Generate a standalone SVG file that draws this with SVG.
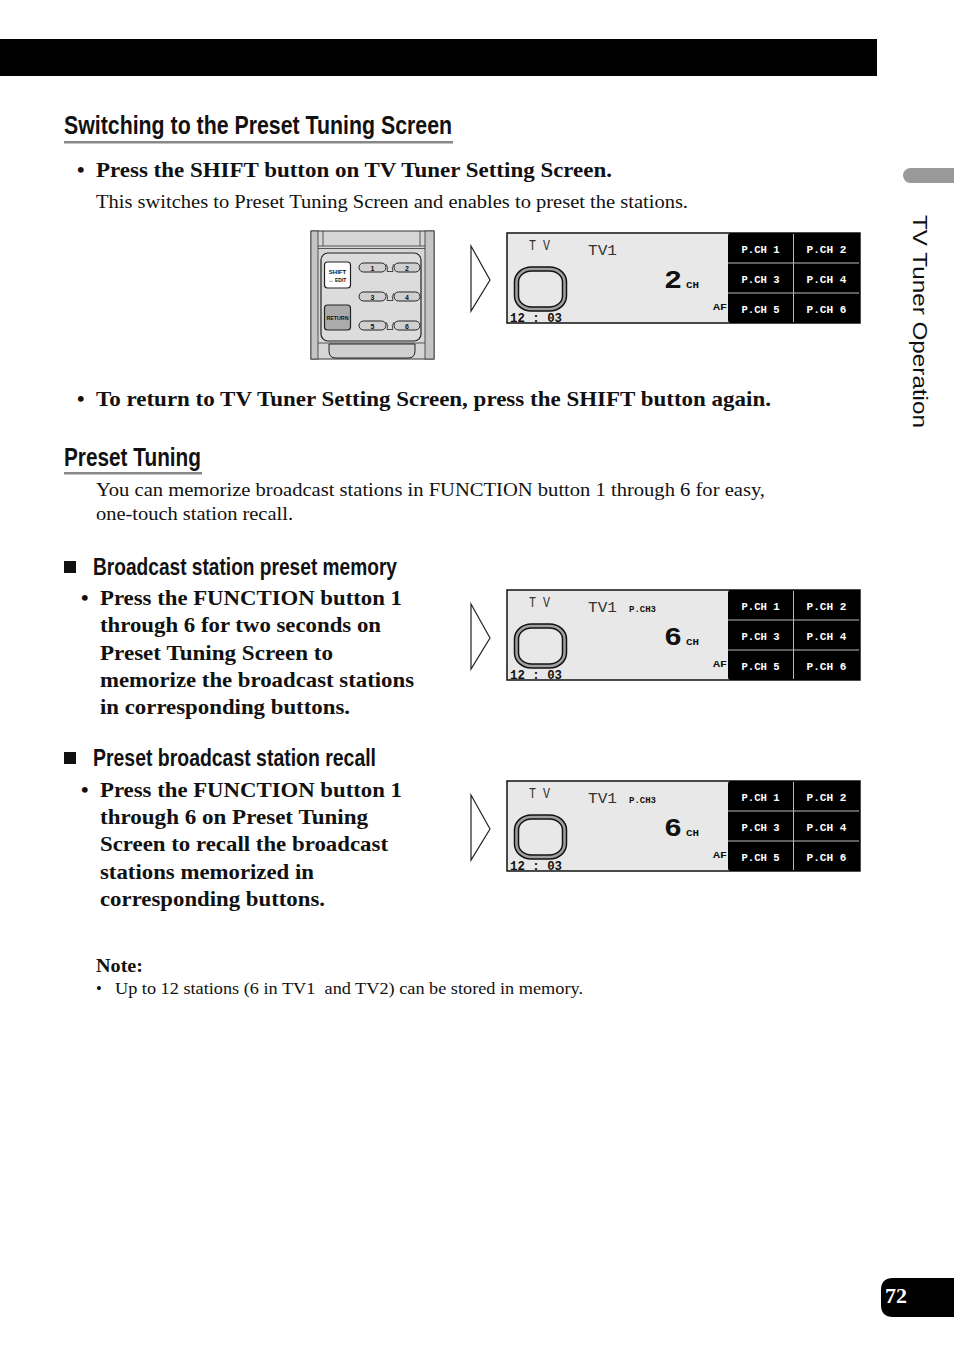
<svg xmlns="http://www.w3.org/2000/svg" xmlns:xlink="http://www.w3.org/1999/xlink" width="954" height="1355" viewBox="0 0 954 1355">
<style>
.h{font-family:"Liberation Sans",Arial,sans-serif;font-weight:bold;fill:#111}
.b{font-family:"Liberation Serif","Times New Roman",serif;font-weight:bold;font-size:21.5px;fill:#111}
.t{font-family:"Liberation Serif","Times New Roman",serif;font-size:19px;fill:#111}
.lcd{font-family:"Liberation Mono","DejaVu Sans Mono",monospace;font-weight:bold}
.lcdn{font-family:"Liberation Mono","DejaVu Sans Mono",monospace;font-weight:normal;fill:#333}
.btn{font-size:11.5px;fill:#fff}
.rm{font-family:"Liberation Sans",Arial,sans-serif;font-weight:bold;fill:#111}
.arrow{fill:#fff;stroke:#222;stroke-width:1.2}
</style>
<defs>
<g id="lcdBase">
<rect x="0" y="0" width="353" height="90" fill="#e8e8e8" stroke="#111" stroke-width="1.5"/>
<path d="M224,0 H353 V90 H224 Q221,90 221,87 V3 Q221,0 224,0 Z" fill="#000"/>
<line x1="286.5" y1="1" x2="286.5" y2="89" stroke="#bbb" stroke-width="1"/>
<line x1="221" y1="30" x2="352" y2="30" stroke="#bbb" stroke-width="1"/>
<line x1="221" y1="60" x2="352" y2="60" stroke="#bbb" stroke-width="1"/>
<g class="lcd btn" text-anchor="middle">
<text x="253.5" y="19.5" textLength="38" lengthAdjust="spacingAndGlyphs">P.CH 1</text>
<text x="319.5" y="19.5" textLength="40" lengthAdjust="spacingAndGlyphs">P.CH 2</text>
<text x="253.5" y="49.5" textLength="38" lengthAdjust="spacingAndGlyphs">P.CH 3</text>
<text x="319.5" y="49.5" textLength="40" lengthAdjust="spacingAndGlyphs">P.CH 4</text>
<text x="253.5" y="79.5" textLength="38" lengthAdjust="spacingAndGlyphs">P.CH 5</text>
<text x="319.5" y="79.5" textLength="40" lengthAdjust="spacingAndGlyphs">P.CH 6</text>
</g>
<text class="lcdn" x="22" y="17" font-size="14" textLength="21" lengthAdjust="spacingAndGlyphs">T V</text>
<text class="lcdn" x="81" y="22" font-size="14" textLength="29" lengthAdjust="spacingAndGlyphs">TV1</text>
<text class="lcd" x="179" y="55" font-size="9.5" fill="#111" textLength="13" lengthAdjust="spacingAndGlyphs">CH</text>
<text class="lcd" x="206" y="77" font-size="9.5" fill="#111" textLength="14" lengthAdjust="spacingAndGlyphs">AF</text>
<text class="lcd" x="3" y="88.5" font-size="12" fill="#111" textLength="52" lengthAdjust="spacingAndGlyphs">12 : 03</text>
<rect x="7.5" y="34" width="52" height="44" rx="17" ry="15" fill="#a0a0a0" stroke="#111" stroke-width="1.5"/>
<rect x="11.5" y="38" width="44" height="36" rx="13" ry="11" fill="#e8e8e8" stroke="#111" stroke-width="1.5"/>
</g>
</defs>

<g id="header-bar">
<rect x="0" y="39" width="877" height="37" fill="#000"/>
</g>

<g id="side-tab">
<rect x="903" y="168" width="60" height="15" rx="7.5" fill="#999"/>
<text transform="translate(913,215) rotate(90)" font-family="Liberation Sans,Arial,sans-serif" font-size="21" fill="#111" textLength="213" lengthAdjust="spacingAndGlyphs">TV Tuner Operation</text>
</g>

<g id="page-number">
<path d="M893,1278 H954 V1317 H893 Q881,1317 881,1305 V1290 Q881,1278 893,1278 Z" fill="#000"/>
<text x="885" y="1303" font-family="Liberation Serif,Times New Roman,serif" font-weight="bold" font-size="20" fill="#fff" textLength="22" lengthAdjust="spacingAndGlyphs">72</text>
</g>

<g id="section-switching">
<text class="h" x="64" y="134" font-size="25" textLength="388" lengthAdjust="spacingAndGlyphs">Switching to the Preset Tuning Screen</text>
<rect x="64" y="141" width="389" height="2.5" fill="#888"/>
<text class="b" x="77" y="177">•</text>
<text class="b" x="96" y="177" textLength="516" lengthAdjust="spacingAndGlyphs">Press the SHIFT button on TV Tuner Setting Screen.</text>
<text class="t" x="96" y="208" textLength="592" lengthAdjust="spacingAndGlyphs">This switches to Preset Tuning Screen and enables to preset the stations.</text>
</g>

<g id="remote">
<rect x="311" y="231" width="123" height="128" fill="#d6d6d6" stroke="#333" stroke-width="1"/>
<rect x="311" y="231" width="7" height="128" fill="#c4c4c4" stroke="#333" stroke-width="0.8"/>
<rect x="425" y="231" width="9" height="128" fill="#c4c4c4" stroke="#333" stroke-width="0.8"/>
<line x1="323" y1="231" x2="323" y2="246" stroke="#333" stroke-width="0.8"/>
<line x1="420" y1="231" x2="420" y2="246" stroke="#333" stroke-width="0.8"/>
<line x1="318" y1="246" x2="425" y2="246" stroke="#333" stroke-width="0.8"/>
<line x1="318" y1="248.5" x2="425" y2="248.5" stroke="#333" stroke-width="0.8"/>
<rect x="321" y="253" width="100" height="88" rx="7" fill="#dcdcdc" stroke="#222" stroke-width="1.2"/>
<rect x="324.5" y="262" width="26" height="26" rx="3" fill="#fff" stroke="#222" stroke-width="1.2"/>
<text class="rm" x="337.5" y="274" font-size="6" text-anchor="middle">SHIFT</text>
<text class="rm" x="337.5" y="281.5" font-size="5" text-anchor="middle">↔ EDIT</text>
<rect x="324.5" y="305" width="26" height="25" rx="3" fill="#ababab" stroke="#222" stroke-width="1.2"/>
<text class="rm" x="337.5" y="320" font-size="5.5" text-anchor="middle" textLength="22" lengthAdjust="spacingAndGlyphs">RETURN</text>
<g fill="#d0d0d0" stroke="#222" stroke-width="1">
<rect x="359" y="263" width="27" height="9" rx="4.5"/>
<rect x="394" y="263" width="26" height="9" rx="4.5"/>
<rect x="359" y="292" width="27" height="9" rx="4.5"/>
<rect x="394" y="292" width="26" height="9" rx="4.5"/>
<rect x="359" y="321" width="27" height="9" rx="4.5"/>
<rect x="394" y="321" width="26" height="9" rx="4.5"/>
</g>
<g fill="none" stroke="#222" stroke-width="0.8">
<path d="M386,264 Q389,267.5 387,271.5 H393 Q391,267.5 394,264"/>
<path d="M386,293 Q389,296.5 387,300.5 H393 Q391,296.5 394,293"/>
<path d="M386,322 Q389,325.5 387,329.5 H393 Q391,325.5 394,322"/>
</g>
<g class="rm" font-size="7" text-anchor="middle">
<text x="372.5" y="270.5">1</text><text x="407" y="270.5">2</text>
<text x="372.5" y="299.5">3</text><text x="407" y="299.5">4</text>
<text x="372.5" y="328.5">5</text><text x="407" y="328.5">6</text>
</g>
<line x1="318" y1="343" x2="425" y2="343" stroke="#333" stroke-width="0.8"/>
<path d="M329,344 H415 V351 Q415,358 408,358 H336 Q329,358 329,351 Z" fill="#d0d0d0" stroke="#222" stroke-width="1"/>
</g>

<g id="connectors">
<polygon class="arrow" points="471,246 490,280 471,311"/>
<polygon class="arrow" points="471,604 490,638 471,669"/>
<polygon class="arrow" points="471,795 490,829 471,860"/>
</g>

<g id="display-1" transform="translate(507,233)">
<use xlink:href="#lcdBase"/>
<text class="lcd" x="157" y="55" font-size="26" fill="#111" textLength="18" lengthAdjust="spacingAndGlyphs">2</text>
</g>

<g id="section-return">
<text class="b" x="77" y="406">•</text>
<text class="b" x="96" y="406" textLength="675" lengthAdjust="spacingAndGlyphs">To return to TV Tuner Setting Screen, press the SHIFT button again.</text>
</g>

<g id="section-preset">
<text class="h" x="64" y="466" font-size="25" textLength="137" lengthAdjust="spacingAndGlyphs">Preset Tuning</text>
<rect x="64" y="472" width="138" height="2.5" fill="#888"/>
<text class="t" x="96" y="496" textLength="669" lengthAdjust="spacingAndGlyphs">You can memorize broadcast stations in FUNCTION button 1 through 6 for easy,</text>
<text class="t" x="96" y="520" textLength="197" lengthAdjust="spacingAndGlyphs">one-touch station recall.</text>
</g>

<g id="section-memory">
<rect x="64" y="561" width="12" height="12" fill="#111"/>
<text class="h" x="93" y="575" font-size="23" textLength="304" lengthAdjust="spacingAndGlyphs">Broadcast station preset memory</text>
<text class="b" x="81" y="605">•</text>
<text class="b" x="100" y="605" textLength="302" lengthAdjust="spacingAndGlyphs">Press the FUNCTION button 1</text>
<text class="b" x="100" y="632" textLength="281" lengthAdjust="spacingAndGlyphs">through 6 for two seconds on</text>
<text class="b" x="100" y="660" textLength="233" lengthAdjust="spacingAndGlyphs">Preset Tuning Screen to</text>
<text class="b" x="100" y="687" textLength="314" lengthAdjust="spacingAndGlyphs">memorize the broadcast stations</text>
<text class="b" x="100" y="714" textLength="250" lengthAdjust="spacingAndGlyphs">in corresponding buttons.</text>
</g>

<g id="display-2" transform="translate(507,590)">
<use xlink:href="#lcdBase"/>
<text class="lcd" x="122" y="22" font-size="9.5" fill="#111" textLength="27" lengthAdjust="spacingAndGlyphs">P.CH3</text>
<text class="lcd" x="157" y="55" font-size="26" fill="#111" textLength="18" lengthAdjust="spacingAndGlyphs">6</text>
</g>

<g id="section-recall">
<rect x="64" y="752" width="12" height="12" fill="#111"/>
<text class="h" x="93" y="766" font-size="23" textLength="283" lengthAdjust="spacingAndGlyphs">Preset broadcast station recall</text>
<text class="b" x="81" y="797">•</text>
<text class="b" x="100" y="797" textLength="302" lengthAdjust="spacingAndGlyphs">Press the FUNCTION button 1</text>
<text class="b" x="100" y="824" textLength="268" lengthAdjust="spacingAndGlyphs">through 6 on Preset Tuning</text>
<text class="b" x="100" y="851" textLength="288" lengthAdjust="spacingAndGlyphs">Screen to recall the broadcast</text>
<text class="b" x="100" y="879" textLength="214" lengthAdjust="spacingAndGlyphs">stations memorized in</text>
<text class="b" x="100" y="906" textLength="225" lengthAdjust="spacingAndGlyphs">corresponding buttons.</text>
</g>

<g id="display-3" transform="translate(507,781)">
<use xlink:href="#lcdBase"/>
<text class="lcd" x="122" y="22" font-size="9.5" fill="#111" textLength="27" lengthAdjust="spacingAndGlyphs">P.CH3</text>
<text class="lcd" x="157" y="55" font-size="26" fill="#111" textLength="18" lengthAdjust="spacingAndGlyphs">6</text>
</g>

<g id="note">
<text x="96" y="972" font-family="Liberation Serif,Times New Roman,serif" font-weight="bold" font-size="19" fill="#111" textLength="47" lengthAdjust="spacingAndGlyphs">Note:</text>
<text x="96" y="994" font-family="Liberation Serif,Times New Roman,serif" font-size="16.5" fill="#111">•</text>
<text x="115" y="994" font-family="Liberation Serif,Times New Roman,serif" font-size="16.5" fill="#111" textLength="468" lengthAdjust="spacingAndGlyphs" xml:space="preserve">Up to 12 stations (6 in TV1  and TV2) can be stored in memory.</text>
</g>
</svg>
